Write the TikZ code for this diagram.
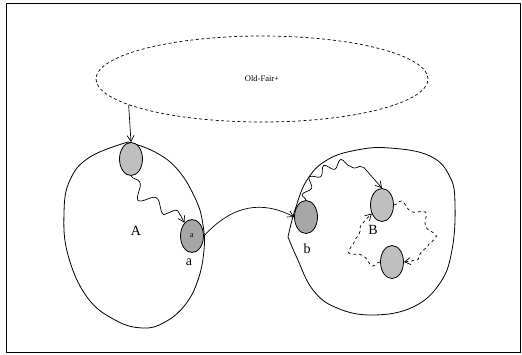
\documentclass[tikz,border=0pt]{standalone}
\usepackage{fontspec}
\setmainfont{Liberation Serif}
\usetikzlibrary{shapes.geometric,decorations.pathmorphing,arrows.meta}

\begin{document}
\begin{tikzpicture}[x=1pt,y=-1pt,
        >={Straight Barb[length=6pt,width=7pt]},
        blob/.style={line width=0.8pt},
        state/.style={ellipse,draw,line width=0.8pt,minimum width=23pt,minimum height=33pt,inner sep=0pt},
        light/.style={state,fill=black!25},
        dark/.style={state,fill=black!35},
        wavy/.style={->,line width=0.7pt,decorate,decoration={snake,amplitude=6pt,segment length=28pt,post length=8pt}},
        lbl/.style={font=\fontsize{14}{16}\selectfont}]
        \useasboundingbox (0,0) rectangle (522,354);
        \draw[line width=0.6pt] (6,3) rectangle (520,352); % Frame.

        \node[ellipse,draw,dashed,dash pattern=on 3pt off 2.5pt,line width=0.7pt,minimum width=332pt,minimum height=86pt,
              font=\fontsize{8.5}{10}\selectfont] (oldfair) at (262,79) {Old-Fair+};

        \draw[blob] plot[smooth,tension=0.7] coordinates {(128,142) (90,157) (70,180) (64,213) (68,255) (87,297)
              (115,320) (143,328) (165,322) (185,305) (198,280) (204,250) (203,225) (196,200) (178,170) (155,152) (128,142)}; % Region A.
        \draw[blob] plot[smooth,tension=0.7] coordinates {(288,237) (295,210) (307,180) (327,160) (357,150) (390,148)
              (430,156) (450,177) (455,205) (452,250) (440,283) (413,307) (373,315) (337,308) (313,290) (297,258) (288,237)}; % Region B.

        \node[light] (n1) at (131,159) {};
        \node[dark,font=\fontsize{8}{9}\selectfont] (na) at (192,236) {a};
        \node[dark] (nb) at (306,217) {};
        \node[light] (nB1) at (382,205) {};
        \node[light] (nB2) at (392,262) {};

        \node[lbl] (labA) at (136,231) {A};
        \node[lbl] (laba) at (189,262) {a};
        \node[lbl] (labb) at (307,249) {b};
        \node[lbl] (labB) at (373,230) {B};

        \draw[->,line width=0.7pt] (oldfair.191) -- (n1.north);
        \draw[wavy] (n1.south) to[out=-70,in=110] (na.120);
        \draw[->,line width=0.7pt] (na.east) .. controls (232,205) and (262,200) .. (nb.west);
        \draw[wavy,decoration={snake,amplitude=4pt,segment length=17pt,post length=30pt}]
              (nb.north) to[out=90,in=90,looseness=1.2] (nB1.north);
        \draw[wavy,dashed,decoration={snake,amplitude=4pt,segment length=24pt,post length=8pt}]
              (nB1.east) to[out=0,in=0,looseness=1.6] (nB2.east);
        \draw[wavy,dashed,decoration={snake,amplitude=4pt,segment length=24pt,post length=8pt}]
              (nB2.west) to[out=180,in=220,looseness=1.5] (nB1.220);
      \end{tikzpicture}
\end{document}
